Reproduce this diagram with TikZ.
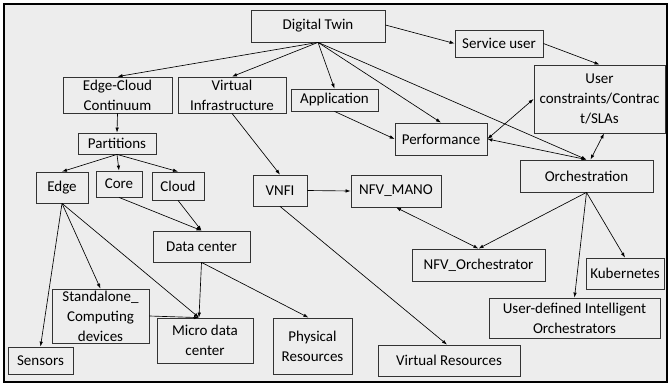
\documentclass[tikz,border=0pt]{standalone}
\usepackage{fontspec}
\setmainfont{Carlito}
\usetikzlibrary{arrows.meta}

\begin{document}
\begin{tikzpicture}[x=1pt, y=-1pt,
    box/.style={draw=black!80, line width=0.8pt, fill=black!7, inner sep=1pt,
                align=center, font=\fontsize{15}{20}\selectfont, text=black},
    link/.style={-{Latex[length=5pt,width=3.5pt]}, line width=0.65pt},
    both/.style={{Latex[length=5pt,width=3.5pt]}-{Latex[length=5pt,width=3.5pt]}, line width=0.65pt}]
    \useasboundingbox (0,0) rectangle (668,385);
    \draw[line width=1.4pt, fill=black!7] (4,4) rectangle (667,382);
    % top level
    \node[box, minimum width=134, minimum height=32] (dt) at (318,26) {Digital Twin};
    \node[box, minimum width=88, minimum height=27] (su) at (499,43.5) {Service user};
    \node[box, minimum width=131, minimum height=68] (ucs) at (599.5,99) {User\\constraints/Contrac\\t/SLAs};
    \node[box, minimum width=109, minimum height=36] (ecc) at (117.5,95) {Edge-Cloud\\Continuum};
    \node[box, minimum width=108, minimum height=36] (vi) at (232,95) {Virtual\\Infrastructure};
    \node[box, minimum width=87, minimum height=22] (app) at (334.5,100) {Application};
    \node[box, minimum width=92, minimum height=32] (perf) at (441,139) {Performance};
    \node[box, minimum width=133, minimum height=32] (orch) at (586.5,176) {Orchestration};
    % edge-cloud side
    \node[box, minimum width=78, minimum height=21] (part) at (117,143.5) {Partitions};
    \node[box, minimum width=52, minimum height=31] (edge) at (62,187.5) {Edge};
    \node[box, minimum width=46, minimum height=26] (core) at (119,184) {Core};
    \node[box, minimum width=52, minimum height=28] (cloud) at (178,186) {Cloud};
    \node[box, minimum width=97, minimum height=31] (dc) at (201.5,246.5) {Data center};
    \node[box, minimum width=97, minimum height=54] (sa) at (100.5,316) {Standalone\_\\Computing\\devices};
    \node[box, minimum width=96, minimum height=45] (mdc) at (205,340.5) {Micro data\\center};
    \node[box, minimum width=65, minimum height=27] (sens) at (40.5,360.5) {Sensors};
    \node[box, minimum width=79, minimum height=56] (phys) at (312.5,346) {Physical\\Resources};
    % virtual side
    \node[box, minimum width=54, minimum height=31] (vnfi) at (280,190.5) {VNFI};
    \node[box, minimum width=90, minimum height=32] (mano) at (396,191) {NFV\_MANO};
    \node[box, minimum width=142, minimum height=31] (vr) at (449,360.5) {Virtual Resources};
    \node[box, minimum width=133, minimum height=32] (nfvo) at (478.5,265) {NFV\_Orchestrator};
    \node[box, minimum width=78, minimum height=31] (kub) at (625,273.5) {Kubernetes};
    \node[box, minimum width=171, minimum height=40] (udio) at (574.5,318) {User-defined Intelligent\\Orchestrators};
    % connectors
    \draw[link] (dt.south) -- (ecc.north);
    \draw[link] (dt.south) -- (vi.north);
    \draw[link] (dt.south) -- (app.north);
    \draw[link] (dt.south) -- (perf.north);
    \draw[link] (dt.south) -- (orch.north);
    \draw[link] ([yshift=1]dt.east) -- (su.west);
    \draw[link] (su.east) -- (ucs.north);
    \draw[link] (app.south) -- (perf.west);
    \draw[both] (perf.east) -- (ucs.west);
    \draw[both] (perf.east) -- (orch.north);
    \draw[both] ([xshift=4]orch.north) -- ([xshift=4.5]ucs.south);
    \draw[link] (ecc.south) -- (part.north);
    \draw[link] (part.south) -- (edge.north);
    \draw[link] (part.south) -- (core.north);
    \draw[link] (part.south) -- (cloud.north);
    \draw[link] (core.south) -- (dc.north);
    \draw[link] (cloud.south) -- (dc.north);
    \draw[link] (edge.south) -- (sens.north);
    \draw[link] (edge.south) -- (sa.north);
    \draw[link] (edge.south) -- ([xshift=-6]mdc.north);
    \draw[link] (dc.south) -- ([xshift=-6]mdc.north);
    \draw[link] (sa.east) -- ([xshift=-6]mdc.north);
    \draw[link] (dc.south) -- ([xshift=-4]phys.north);
    \draw[link] (vi.south) -- (vnfi.north);
    \draw[link] (vnfi.east) -- (mano.west);
    \draw[link] (vnfi.south) -- ([xshift=-2]vr.north);
    \draw[both] (mano.south) -- (nfvo.north);
    \draw[link] (orch.south) -- (nfvo.north);
    \draw[link] (orch.south) -- (udio.north);
    \draw[link] (orch.south) -- (kub.north);
\end{tikzpicture}
\end{document}
